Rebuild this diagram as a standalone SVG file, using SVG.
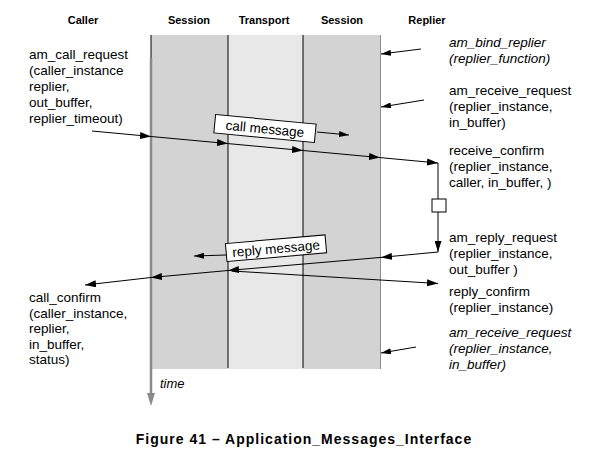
<svg xmlns="http://www.w3.org/2000/svg" width="616" height="451" viewBox="0 0 616 451">
<style>
.hdr{font-family:"Liberation Sans",Arial,sans-serif;font-size:11px;font-weight:bold;fill:#000;text-anchor:middle}
.t{font-family:"Liberation Sans",Arial,sans-serif;font-size:13.5px;fill:#000}
.it{font-style:italic}
.cap{font-family:"Liberation Sans",Arial,sans-serif;font-size:14px;font-weight:bold;letter-spacing:1px;text-anchor:middle}
.ln{stroke:#000;stroke-width:1;fill:none}
.box{fill:#fff;stroke:#000;stroke-width:1}
</style>
<defs>
<marker id="ah" viewBox="0 0 11 7" refX="11" refY="3.5" markerWidth="11" markerHeight="7" markerUnits="userSpaceOnUse" orient="auto">
<path d="M0,0 L11,3.5 L0,7 z" fill="#000"/>
</marker>
<marker id="ahs" viewBox="0 0 10 6" refX="10" refY="3" markerWidth="10" markerHeight="6" markerUnits="userSpaceOnUse" orient="auto">
<path d="M0,0 L10,3 L0,6 z" fill="#000"/>
</marker>
</defs>
<rect width="616" height="451" fill="#fff"/>

<g id="lane-session1">
<rect x="151" y="35" width="77" height="334" fill="#d3d3d3"/>
<text class="hdr" x="189" y="24">Session</text>
</g>
<g id="lane-transport">
<rect x="228" y="35" width="75" height="334" fill="#e8e8e8"/>
<line x1="228" y1="35" x2="228" y2="368" stroke="#000" stroke-width="1"/>
<text class="hdr" x="264" y="24">Transport</text>
</g>
<g id="lane-session2">
<rect x="303" y="35" width="77" height="334" fill="#d3d3d3"/>
<line x1="303" y1="35" x2="303" y2="368" stroke="#000" stroke-width="1"/>
<line x1="380.5" y1="35" x2="380.5" y2="369" stroke="#8c8c8c" stroke-width="1"/>
<text class="hdr" x="342" y="24">Session</text>
</g>
<g id="caller">
<text class="hdr" x="83" y="24">Caller</text>
<line x1="151" y1="35" x2="151" y2="58" stroke="#000" stroke-width="1"/>
<line x1="151" y1="58" x2="151" y2="394" stroke="#8a8a8a" stroke-width="2.5"/>
<path d="M147,393 L155,393 L151,406 z" fill="#8a8a8a"/>
<text class="t it" x="160" y="388" style="font-size:13px">time</text>
<text class="t" x="29" y="59">am_call_request</text>
<text class="t" x="29" y="75">(caller_instance</text>
<text class="t" x="29" y="91">replier,</text>
<text class="t" x="29" y="107">out_buffer,</text>
<text class="t" x="29" y="123">replier_timeout)</text>
<text class="t" x="29" y="302">call_confirm</text>
<text class="t" x="29" y="318">(caller_instance,</text>
<text class="t" x="29" y="333">replier,</text>
<text class="t" x="29" y="349">in_buffer,</text>
<text class="t" x="29" y="364">status)</text>
</g>
<g id="replier">
<text class="hdr" x="427" y="24">Replier</text>
<text class="t it" x="449" y="47">am_bind_replier</text>
<text class="t it" x="449" y="63">(replier_function)</text>
<text class="t" x="449" y="95">am_receive_request</text>
<text class="t" x="449" y="111">(replier_instance,</text>
<text class="t" x="449" y="127">in_buffer)</text>
<text class="t" x="449" y="155">receive_confirm</text>
<text class="t" x="449" y="171">(replier_instance,</text>
<text class="t" x="449" y="187">caller, in_buffer, )</text>
<text class="t" x="449" y="242">am_reply_request</text>
<text class="t" x="449" y="258">(replier_instance,</text>
<text class="t" x="449" y="274">out_buffer )</text>
<text class="t" x="449" y="296">reply_confirm</text>
<text class="t" x="449" y="312">(replier_instance)</text>
<text class="t it" x="449" y="337">am_receive_request</text>
<text class="t it" x="449" y="353">(replier_instance,</text>
<text class="t it" x="449" y="369">in_buffer)</text>
</g>

<g id="connectors">
<line class="ln" x1="421" y1="49" x2="381" y2="54" marker-end="url(#ahs)"/>
<line class="ln" x1="424" y1="100" x2="381" y2="107" marker-end="url(#ahs)"/>
<line class="ln" x1="416" y1="347" x2="381" y2="353" marker-end="url(#ahs)"/>

<line class="ln" x1="92" y1="131" x2="151" y2="136.5" marker-end="url(#ah)"/>
<line class="ln" x1="151" y1="136.5" x2="228" y2="143.6" marker-end="url(#ah)"/>
<line class="ln" x1="228" y1="143.6" x2="303" y2="150.5" marker-end="url(#ah)"/>
<line class="ln" x1="303" y1="150.5" x2="380" y2="157.6" marker-end="url(#ah)"/>
<line class="ln" x1="380" y1="157.6" x2="438" y2="163" marker-end="url(#ah)"/>

<line class="ln" x1="438" y1="163" x2="438" y2="252" marker-end="url(#ah)"/>
<rect class="box" x="432" y="199" width="14" height="13"/>

<line class="ln" x1="438" y1="252" x2="381" y2="257.4" marker-end="url(#ah)"/>
<line class="ln" x1="381" y1="257.4" x2="228" y2="270.5" marker-end="url(#ah)"/>
<line class="ln" x1="228" y1="270.5" x2="151" y2="277.5" marker-end="url(#ah)"/>
<line class="ln" x1="151" y1="277.5" x2="85" y2="285" marker-end="url(#ah)"/>

<line class="ln" x1="232" y1="271" x2="438" y2="283.5" marker-end="url(#ah)"/>

<g transform="translate(265,128.5) rotate(5.5)">
<rect class="box" x="-50.5" y="-9.25" width="101" height="18.5"/>
<text class="t" x="0" y="5" text-anchor="middle">call message</text>
</g>
<line class="ln" x1="317" y1="132" x2="349" y2="135" marker-end="url(#ahs)"/>

<g transform="translate(276,248.2) rotate(-5)">
<rect class="box" x="-50" y="-9" width="100" height="18"/>
<text class="t" x="0" y="5" text-anchor="middle">reply message</text>
</g>
<line class="ln" x1="226" y1="255" x2="194" y2="256" marker-end="url(#ahs)"/>
</g>

<text class="cap" x="304" y="444">Figure 41 – Application_Messages_Interface</text>
</svg>
